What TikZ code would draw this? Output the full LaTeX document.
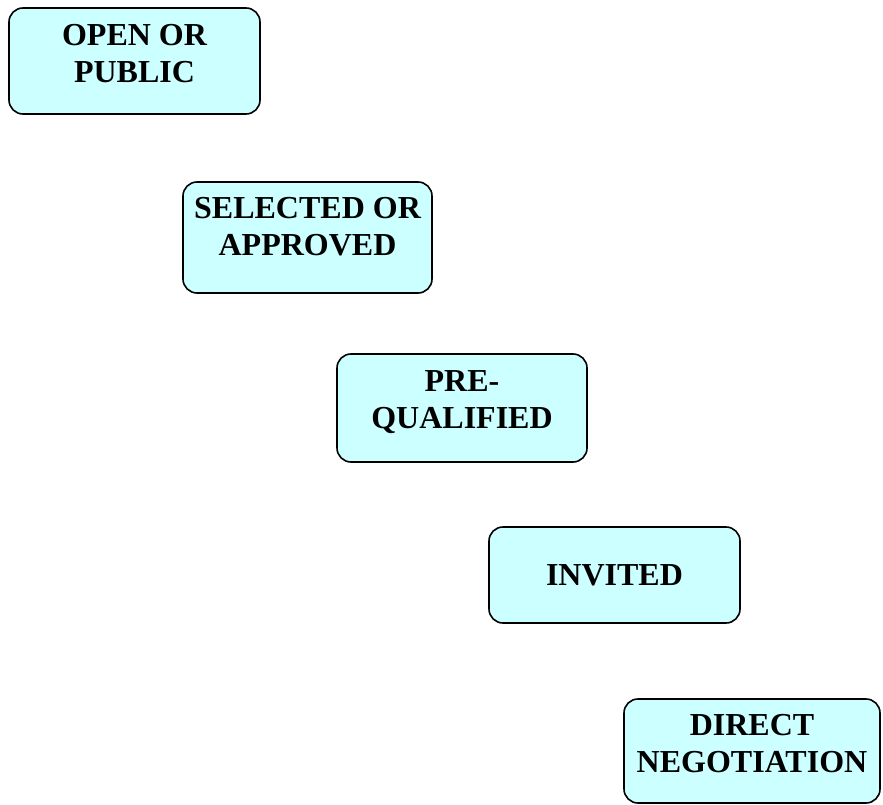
\documentclass[tikz,border=0pt]{standalone}
\usepackage{fontspec}
\setmainfont{Liberation Serif}
\usepackage{tikz}
\usetikzlibrary{positioning}

\definecolor{boxcyan}{RGB}{204,255,255}

\begin{document}
\begin{tikzpicture}[x=1pt,y=-1pt,
  box/.style={draw,fill=boxcyan,rounded corners=14pt,line width=1.6pt,minimum width=251pt,minimum height=106pt,align=center,font=\fontsize{32}{37}\selectfont\bfseries},
  twoline/.style={box,text depth=16pt}]
  \useasboundingbox (0,0) rectangle (883,805);
  % steps, one below the other
  \node [twoline] (open) at (134.5,61) {OPEN OR\\PUBLIC};
  \node [twoline, minimum width=249pt, minimum height=111pt, text depth=22pt] (selected) at (307.5,237.5) {SELECTED OR\\APPROVED};
  \node [twoline, minimum width=250pt, minimum height=108pt] (prequal) at (462,408) {PRE-\\QUALIFIED};
  \node [box, minimum height=96pt] (invited) at (614.5,575) {INVITED};
  \node [twoline, minimum width=256pt, minimum height=104pt] (direct) at (752,751) {DIRECT\\NEGOTIATION};
\end{tikzpicture}
\end{document}
